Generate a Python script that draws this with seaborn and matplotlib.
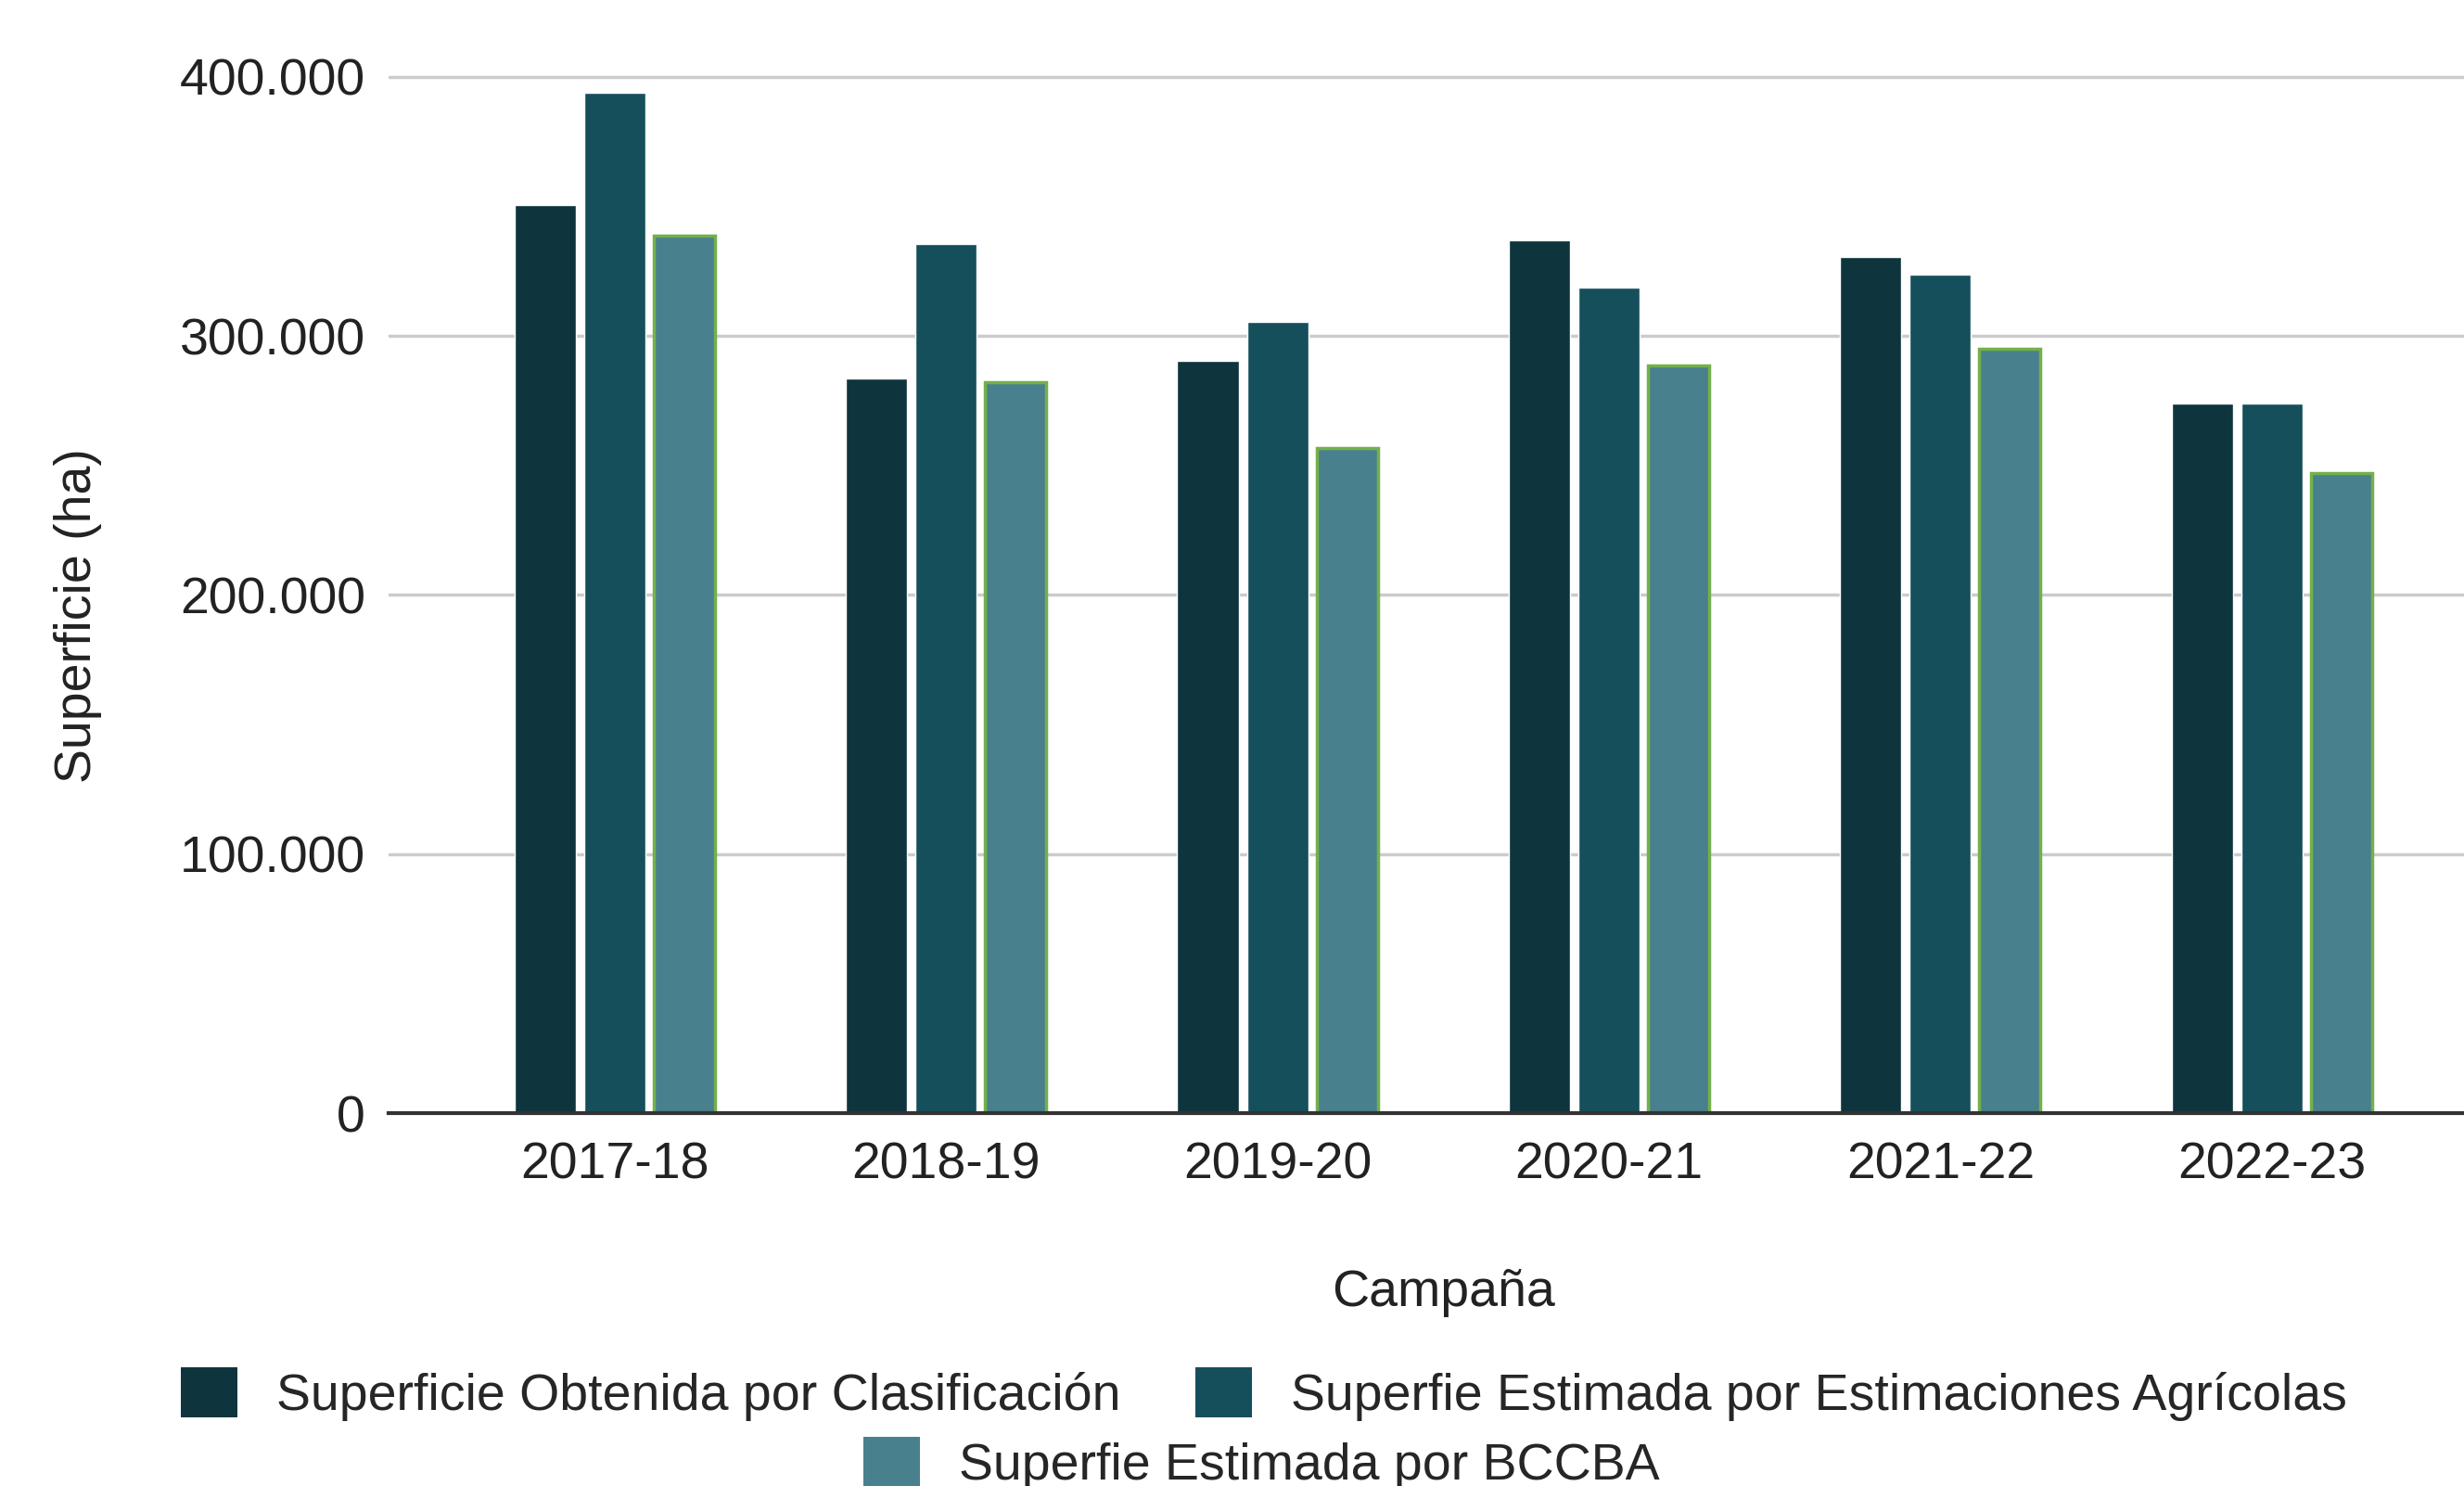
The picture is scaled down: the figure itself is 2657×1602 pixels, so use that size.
import pandas as pd
import matplotlib.pyplot as plt
import matplotlib.ticker as mticker
from matplotlib.patches import Patch
import seaborn as sns

# Data (ha)
campanas = ['2017-18', '2018-19', '2019-20', '2020-21', '2021-22', '2022-23']
clasificacion = [350500, 283600, 290300, 337100, 330400, 273800]
estimaciones_agricolas = [393800, 335600, 305400, 318600, 323600, 273800]
bccba = [338600, 282000, 256900, 288700, 295200, 246900]

series_names = ['Superficie Obtenida por Clasificación',
                'Superfie Estimada por Estimaciones Agrícolas',
                'Superfie Estimada por BCCBA']
colors = ['#0e353d', '#154f5b', '#49808e']

# Long format for seaborn
df = pd.concat([
    pd.DataFrame({'Campaña': campanas, 'Serie': series_names[0], 'Superficie': clasificacion}),
    pd.DataFrame({'Campaña': campanas, 'Serie': series_names[1], 'Superficie': estimaciones_agricolas}),
    pd.DataFrame({'Campaña': campanas, 'Serie': series_names[2], 'Superficie': bccba}),
], ignore_index=True)

sns.set_style('white')
plt.rcParams['font.family'] = ['Liberation Sans', 'DejaVu Sans']

fig = plt.figure(figsize=(26.57, 16.02), dpi=100)
ax = fig.add_axes([0.1577, 0.2509, 0.8423, 0.957 - 0.2509])

sns.barplot(data=df, x='Campaña', y='Superficie', hue='Serie', palette=colors,
            width=0.63, gap=0.12, saturation=1, ax=ax, legend=False)

# green outline on the BCCBA bars
for p in ax.containers[2]:
    p.set_edgecolor('#74b04a')
    p.set_linewidth(2.5)

ax.set_xlim(-0.682, 5.58)
ax.set_ylim(0, 405000)
ax.set_yticks([0, 100000, 200000, 300000, 400000])
ax.yaxis.set_major_formatter(mticker.FuncFormatter(lambda v, _: f'{int(v):,}'.replace(',', '.')))
ax.grid(axis='y', color='#cccccc', linewidth=2.5)
ax.set_axisbelow(True)
for s in ['top', 'right', 'left']:
    ax.spines[s].set_visible(False)
ax.spines['bottom'].set_color('#333333')
ax.spines['bottom'].set_linewidth(3)
ax.tick_params(axis='both', length=0, labelsize=40, colors='#222222')
ax.tick_params(axis='y', pad=18)
ax.tick_params(axis='x', pad=22)

ax.set_xlabel('Campaña', fontsize=40, color='#222222')
ax.xaxis.set_label_coords((1556 - 419) / (2657 - 419), -(1368 - 1200) / (1200 - 69))
ax.set_ylabel('Superficie (ha)', fontsize=40, color='#222222')
ax.yaxis.set_label_coords(-(419 - 110) / (2657 - 419), 0.474)

# legend: two entries on the first row, third centred on the second row
handles = [Patch(facecolor=c, edgecolor='none') for c in colors]
fig.legend(handles[:2], series_names[:2], loc='center', bbox_to_anchor=(0.513, 1 - 1503 / 1602),
           ncol=2, frameon=False, fontsize=40, handlelength=1.1, handleheight=1.1,
           handletextpad=0.75, columnspacing=1.45, borderpad=0)
fig.legend(handles[2:], series_names[2:], loc='center', bbox_to_anchor=(0.512, 1 - 1578 / 1602),
           frameon=False, fontsize=40, handlelength=1.1, handleheight=1.1,
           handletextpad=0.75, borderpad=0)

fig.savefig('out.png', dpi=100)
